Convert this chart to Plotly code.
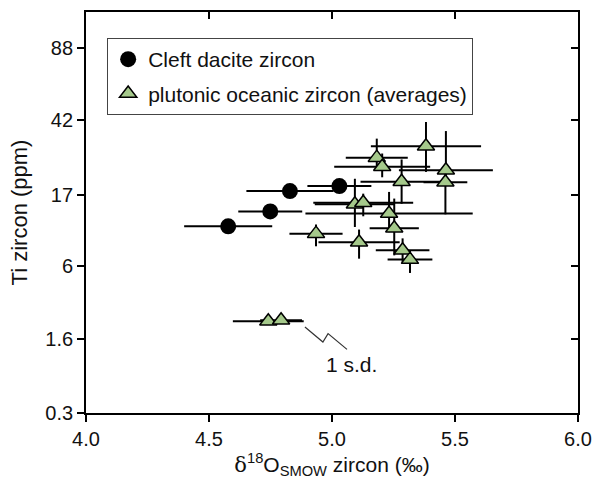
import numpy as np
import plotly.graph_objects as go

# ---------------- data ----------------
# Cleft dacite zircon
dacite_d18o = [4.578, 4.749, 4.829, 5.030]
dacite_d18o_sd = [0.179, 0.130, 0.177, 0.130]
dacite_ti = [11.0, 13.6, 17.9, 19.1]

# plutonic oceanic zircon (averages)
oce_d18o = [5.382, 5.182, 5.204, 5.463, 5.461, 5.283, 5.093, 5.127,
            5.232, 5.253, 4.935, 5.110, 5.287, 5.317, 4.741, 4.793]
oce_d18o_sd = [0.224, 0.126, 0.195, 0.191, 0.089, 0.167, 0.163, 0.203,
               0.340, 0.100, 0.108, 0.165, 0.109, 0.091, 0.144, 0.085]
oce_ti = [31.3, 27.3, 24.4, 23.4, 20.1, 20.2, 15.0, 15.3,
          13.2, 10.7, 9.89, 8.69, 7.69, 6.65, 2.28, 2.33]
oce_ti_low = [22.9, 23.4, 21.4, 20.1, 13.05, 15.1, 10.9, 12.7,
              10.1, 7.11, 8.18, 6.75, 6.37, 5.36, 2.28, 2.33]
oce_ti_high = [41.3, 34.2, 28.7, 37.3, 23.4, 26.7, 21.0, 17.3,
               17.7, 16.2, 11.3, 10.5, 9.22, 7.69, 2.28, 2.33]

ti_ticks = [0.3, 1.6, 6, 17, 42, 88]
ti_tick_labels = ["0.3", "1.6", "6", "17", "42", "88"]
x_ticks = [4.0, 4.5, 5.0, 5.5, 6.0]
x_tick_labels = ["4.0", "4.5", "5.0", "5.5", "6.0"]


# Ti-in-zircon thermometer scale: axis is linear in temperature (deg C)
def ti_to_T(ti):
    ti = np.asarray(ti, dtype=float)
    return 4800.0 / (5.711 - np.log10(ti)) - 273.15


FONT = "Liberation Sans, Arial, Helvetica, sans-serif"
GREEN = "#a5c98b"
TXT = "#111111"

y_range = [float(ti_to_T(0.3)), 1051.0]
x_range = [4.0, 6.0]

fig = go.Figure()

dT = ti_to_T(dacite_ti)
fig.add_trace(go.Scatter(
    x=dacite_d18o, y=dT, mode="markers", name="Cleft dacite zircon",
    legendgroup="a",
    marker=dict(symbol="circle", size=16, color="black"),
    error_x=dict(type="data", array=dacite_d18o_sd, color="black",
                 thickness=2, width=0),
))

oT = ti_to_T(oce_ti)
oT_lo = ti_to_T(oce_ti_low)
oT_hi = ti_to_T(oce_ti_high)
fig.add_trace(go.Scatter(
    x=oce_d18o, y=oT, mode="markers",
    name="plutonic oceanic zircon (averages)", legendgroup="b",
    marker=dict(symbol="triangle-up", size=15, color=GREEN,
                line=dict(color="black", width=1.5)),
    error_x=dict(type="data", array=oce_d18o_sd, color="black",
                 thickness=2, width=0),
    error_y=dict(type="data", symmetric=False, array=oT_hi - oT,
                 arrayminus=oT - oT_lo, color="black", thickness=2, width=0),
))

# dummy trace for mirrored (top / right) axes
fig.add_trace(go.Scatter(x=[None], y=[None], xaxis="x2", yaxis="y2",
                         showlegend=False, hoverinfo="skip"))

# "1 s.d." label and squiggle leader
sd_label_x, sd_label_T = 5.081, 564.0
squig = [(4.890, 615.6), (4.963, 594.9), (4.984, 606.5), (5.061, 584.8)]
fig.add_shape(type="path", path="M {} {} L {} {} L {} {} L {} {}".format(
    squig[0][0], squig[0][1], squig[1][0], squig[1][1],
    squig[2][0], squig[2][1], squig[3][0], squig[3][1]),
    xref="x", yref="y", line=dict(color="#333333", width=1.2))
fig.add_annotation(x=sd_label_x, y=sd_label_T, xref="x", yref="y",
                   text="1 s.d.", showarrow=False,
                   font=dict(family=FONT, size=21, color=TXT))

axis_common = dict(showgrid=False, zeroline=False, showline=True,
                   linecolor="black", linewidth=1.8, tickcolor="black",
                   tickwidth=1.5, ticklen=7, automargin=False)

fig.update_layout(
    width=592, height=479,
    margin=dict(l=86, r=14, t=12, b=66),
    paper_bgcolor="white", plot_bgcolor="white",
    font=dict(family=FONT, size=20, color=TXT),
    showlegend=True,
    legend=dict(x=0.043, y=0.935, xanchor="left", yanchor="top",
                bgcolor="white", bordercolor="#444", borderwidth=1,
                font=dict(family=FONT, size=21, color=TXT),
                tracegroupgap=4, itemsizing="trace"),
    xaxis=dict(range=x_range, tickvals=x_ticks, ticktext=x_tick_labels,
               ticks="outside", tickfont=dict(size=20),
               title=dict(text="<span style=\"font-family:'DejaVu Serif'\">δ</span>"
                               "<sup>18</sup>O<sub>SMOW</sub> zircon (‰)",
                          font=dict(family=FONT, size=21), standoff=10),
               **axis_common),
    yaxis=dict(range=y_range, tickvals=list(ti_to_T(ti_ticks)),
               ticktext=ti_tick_labels, ticks="outside", tickfont=dict(size=20),
               title=dict(text="Ti zircon (ppm)",
                          font=dict(family=FONT, size=22), standoff=12),
               **axis_common),
    xaxis2=dict(overlaying="x", side="top", range=x_range, tickvals=x_ticks,
                ticks="inside", showticklabels=False, **axis_common),
    yaxis2=dict(overlaying="y", side="right", range=y_range,
                tickvals=list(ti_to_T(ti_ticks)), ticks="inside",
                showticklabels=False, **axis_common),
)

fig.write_html("out.html")
